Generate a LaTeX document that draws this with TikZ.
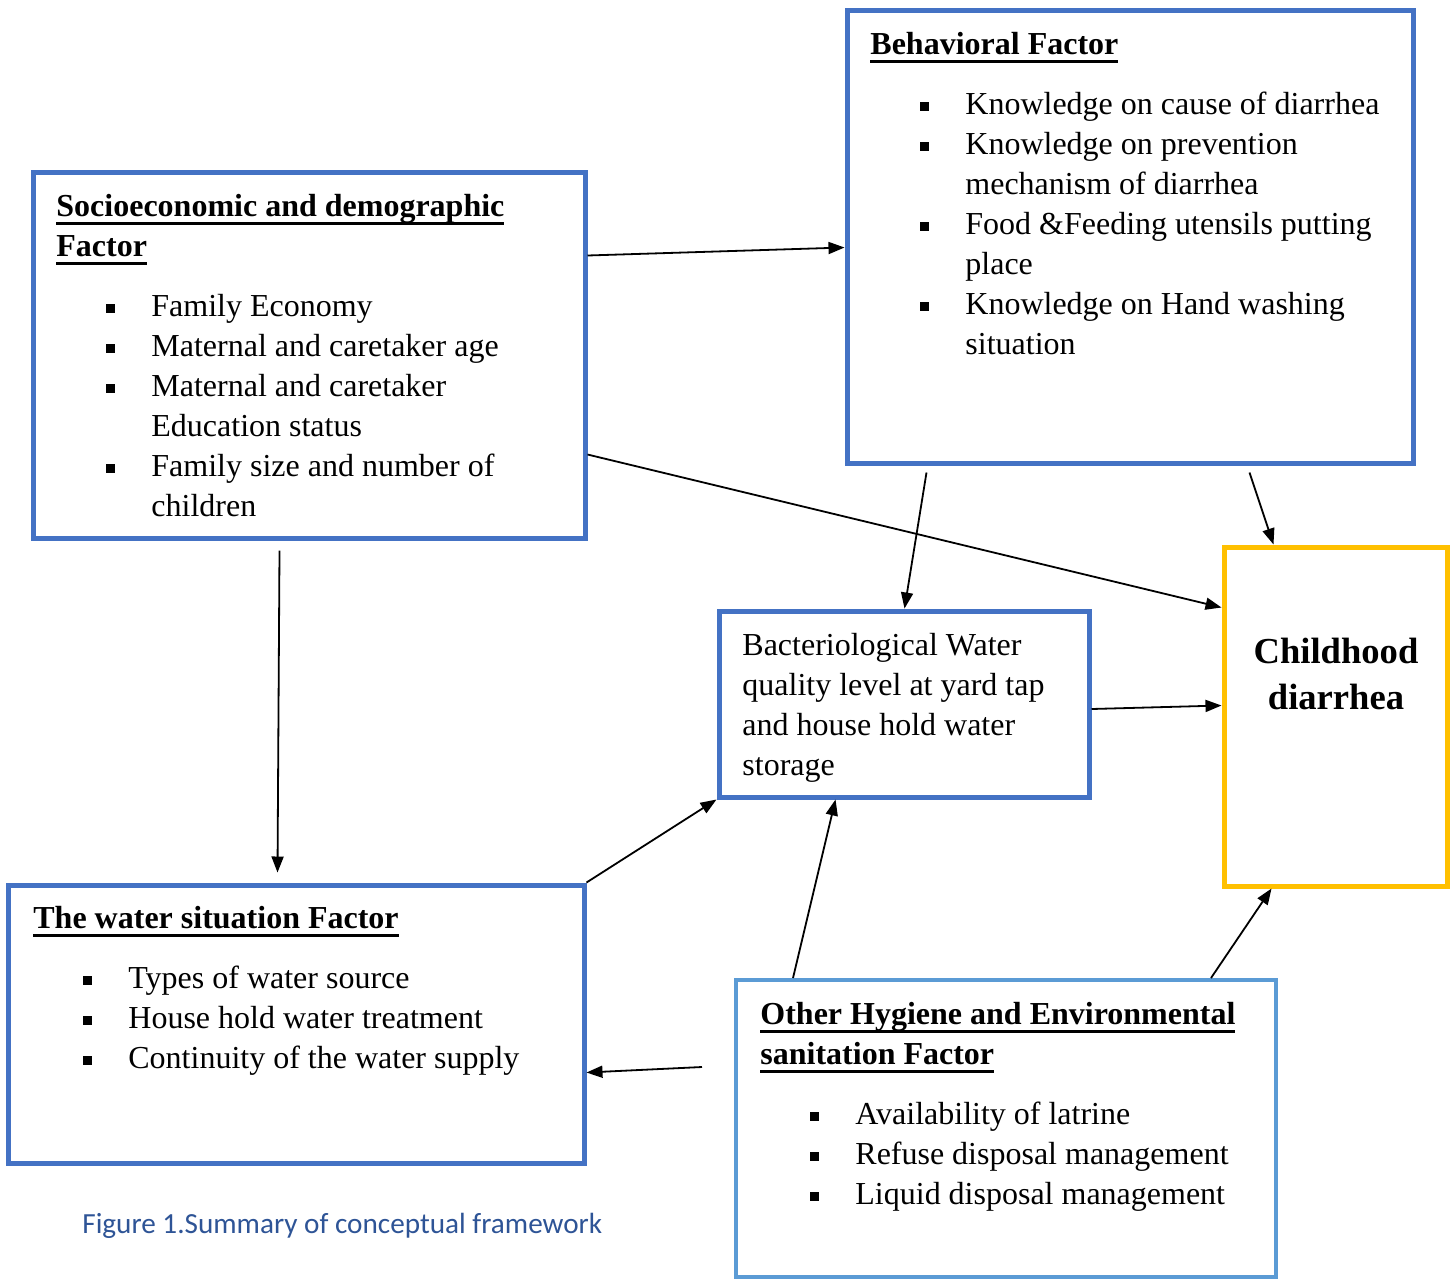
\documentclass[tikz,border=0pt]{standalone}
\usepackage{fontspec}
\setmainfont{Liberation Serif}
\newfontfamily\capfont{Carlito}
\usetikzlibrary{arrows.meta,fit,calc}

\definecolor{boxblue}{RGB}{68,114,196}
\definecolor{lightblue}{RGB}{91,155,213}
\definecolor{gold}{RGB}{255,192,0}
\definecolor{capblue}{RGB}{46,84,150}

\newcommand{\titleul}[1]{\setbox0\hbox{\bfseries #1}\rlap{\rule[-4pt]{\wd0}{1.4pt}}\box0}
\newcommand{\bul}[1]{\hspace*{25pt}\makebox[22.5pt][l]{\rule[2pt]{4.4pt}{4.4pt}}#1}
\newcommand{\cont}[1]{\hspace*{47.5pt}#1}

\begin{document}
\begin{tikzpicture}[x=0.5pt,y=-0.5pt,
  box/.style={draw=boxblue,line width=2.5pt,inner sep=0pt},
  txt/.style={anchor=north west,inner sep=0pt,align=left,font=\fontsize{16}{20}\selectfont},
  link/.style={-{Triangle[length=8pt,width=6pt]},line width=0.9pt}]
\useasboundingbox (0,0) rectangle (1455,1280);

% boxes
\node[box,fit={(33,172) (585,538)}] (socio) {};
\node[box,fit={(847,10) (1413,463)}] (behav) {};
\node[box,fit={(719,611) (1089,797)}] (bact) {};
\node[box,draw=gold,fit={(1224,547) (1447,886)}] (child) {};
\node[box,fit={(8,885) (584,1163)}] (water) {};
\node[box,draw=lightblue,line width=2pt,fit={(736,980) (1276,1277)}] (other) {};

% texts
\node[txt] (sociotxt) at (56,194) {\titleul{Socioeconomic and demographic}\\\titleul{Factor}\\[10pt]
  \bul{Family Economy}\\\bul{Maternal and caretaker age}\\\bul{Maternal and caretaker}\\
  \cont{Education status}\\\bul{Family size and number of}\\\cont{children}};
\node[txt] (behavtxt) at (870,32) {\titleul{Behavioral Factor}\\[10pt]
  \bul{Knowledge on cause of diarrhea}\\\bul{Knowledge on prevention}\\\cont{mechanism of diarrhea}\\
  \bul{Food \&Feeding utensils putting}\\\cont{place}\\\bul{Knowledge on Hand washing}\\\cont{situation}};
\node[txt] (bacttxt) at (742,633) {Bacteriological Water\\quality level at yard tap\\and house hold water\\storage};
\node[anchor=north,inner sep=0pt,align=center,font=\fontsize{18.3}{23}\selectfont\bfseries] (childtxt) at (1336,638) {Childhood\\diarrhea};
\node[txt] (watertxt) at (33,906) {\titleul{The water situation Factor}\\[10pt]
  \bul{Types of water source}\\\bul{House hold water treatment}\\\bul{Continuity of the water supply}};
\node[txt] (othertxt) at (760,1002) {\titleul{Other Hygiene and Environmental}\\\titleul{sanitation Factor}\\[10pt]
  \bul{Availability of latrine}\\\bul{Refuse disposal management}\\\bul{Liquid disposal management}};
\node[anchor=west,inner sep=0pt,font=\capfont\fontsize{14.6}{17}\selectfont,text=capblue] (caption) at (82,1226) {Figure 1.Summary of conceptual framework};

% arrows
\draw[link] ($(socio.north east)+(0,86)$) -- ($(behav.north west)+(0,240)$);
\draw[link] ($(socio.north east)+(0,285)$) -- ($(child.north west)+(0,63)$);
\draw[link] ($(behav.south west)+(82,7)$) -- ($(bact.north west)+(188,0)$);
\draw[link] ($(behav.south west)+(405,7)$) -- ($(child.north west)+(52,0)$);
\draw[link] ($(socio.south west)+(249,10)$) -- ($(water.north west)+(272,-10)$);
\draw[link] (water.north east) -- (bact.south west);
\draw[link] ($(bact.east)+(0,5)$) -- ($(child.west)+(0,-11)$);
\draw[link] ($(other.north west)+(59,0)$) -- ($(bact.south west)+(119,0)$);
\draw[link] ($(other.north west)+(477,0)$) -- ($(child.south west)+(50,0)$);
\draw[link] ($(other.north west)+(-32,89)$) -- ($(water.north east)+(0,190)$);

\end{tikzpicture}
\end{document}
